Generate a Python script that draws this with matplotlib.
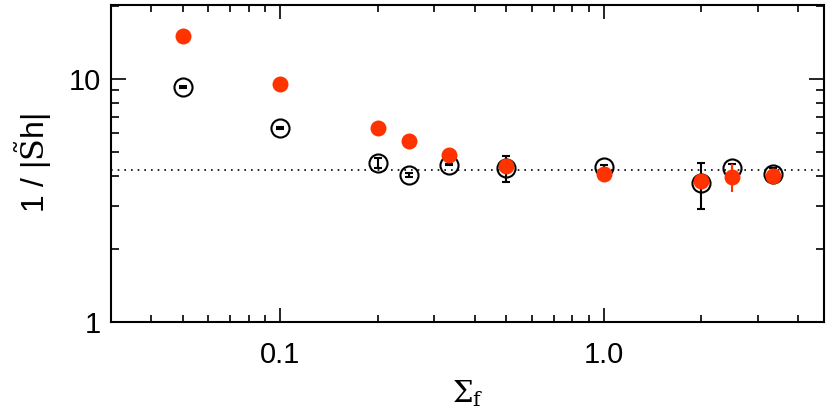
import matplotlib
matplotlib.use("Agg")
import matplotlib.pyplot as plt
from matplotlib.ticker import LogLocator, FixedLocator, NullFormatter, FixedFormatter

sigma_f = [0.05, 0.1, 0.2, 0.25, 0.333, 0.5, 1.0, 2.0, 2.5, 3.33]
black_vals = [9.27, 6.29, 4.50, 4.03, 4.43, 4.30, 4.34, 3.72, 4.30, 4.06]
black_err = [0.12, 0.08, 0.21, 0.08, 0.03, 0.53, 0.10, 0.80, 0.15, 0.25]
red_vals = [15.0, 9.54, 6.29, 5.56, 4.87, 4.38, 4.06, 3.80, 3.93, 3.99]
red_err = [0.0, 0.0, 0.0, 0.0, 0.0, 0.0, 0.0, 0.0, 0.52, 0.0]
ref_level = 4.21

xticks = [0.1, 1.0]
xticklabels = ["0.1", "1.0"]
yticks = [1, 10]
yticklabels = ["1", "10"]

plt.rcParams['font.family'] = ['Liberation Sans', 'DejaVu Sans']
plt.rcParams['mathtext.fontset'] = 'dejavuserif'

fig = plt.figure(figsize=(8.3, 4.15), dpi=100)
ax = fig.add_axes([111/830, 1-321.5/415, (824-111)/830, (321.5-5)/415])
ax.set_xscale('log')
ax.set_yscale('log')
ax.set_xlim(0.03, 4.8)
ax.set_ylim(1, 20.2)

ax.axhline(ref_level, color='black', linestyle=(0, (1, 3)), linewidth=1.2, zorder=1)

ax.errorbar(sigma_f, black_vals, yerr=black_err, fmt='o', ms=13, mfc='none',
            mec='black', mew=1.5, ecolor='black', elinewidth=1.5, capsize=3,
            capthick=1.5, zorder=2)
ax.errorbar(sigma_f, red_vals, yerr=red_err, fmt='o', ms=11.5, mfc='#ff3300',
            mec='#ff3300', mew=0, ecolor='#ff3300', elinewidth=1.5, capsize=3,
            capthick=1.5, zorder=3)

ax.xaxis.set_major_locator(FixedLocator(xticks))
ax.xaxis.set_major_formatter(FixedFormatter(xticklabels))
ax.xaxis.set_minor_locator(LogLocator(base=10, subs=range(2, 10)))
ax.xaxis.set_minor_formatter(NullFormatter())
ax.yaxis.set_major_locator(FixedLocator(yticks))
ax.yaxis.set_major_formatter(FixedFormatter(yticklabels))
ax.yaxis.set_minor_locator(LogLocator(base=10, subs=range(2, 10)))
ax.yaxis.set_minor_formatter(NullFormatter())

ax.tick_params(which='both', direction='in', top=True, right=True, width=1.2,
               labelsize=21, colors='black')
ax.tick_params(axis='y', which='major', length=11, pad=7)
ax.tick_params(axis='y', which='minor', length=6)
ax.tick_params(axis='x', which='major', length=10, pad=14)
ax.tick_params(axis='x', which='minor', length=5)
for s in ax.spines.values():
    s.set_linewidth(1.5)

ax.set_xlabel(r'$\Sigma_{\mathrm{f}}$', fontsize=21, labelpad=7)
ax.set_ylabel(r'1 / |$\tilde{\mathrm{S}}$h|', fontsize=23, labelpad=11)

fig.savefig('out.png', dpi=100)
